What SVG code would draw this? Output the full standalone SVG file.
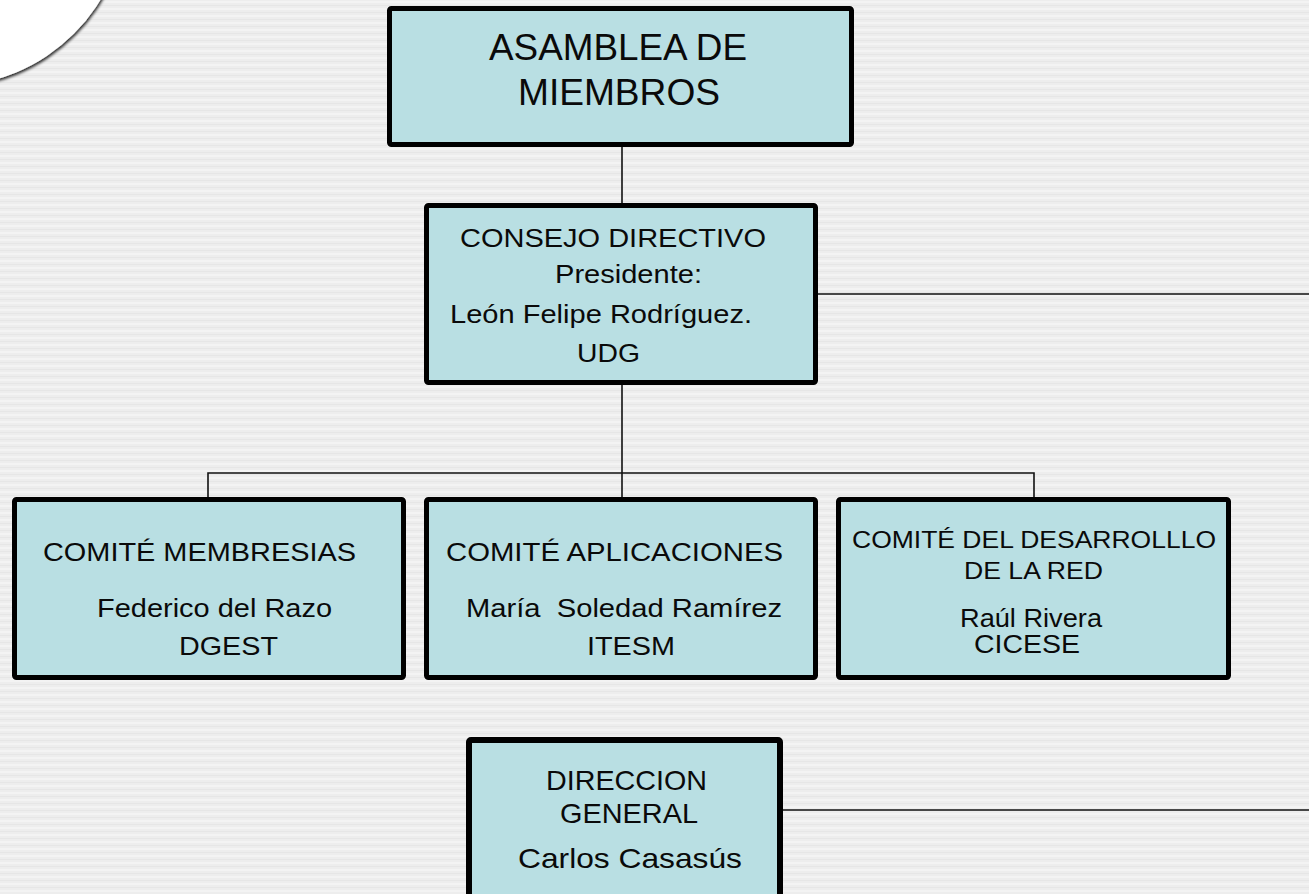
<svg xmlns="http://www.w3.org/2000/svg" width="1309" height="894" viewBox="0 0 1309 894">
<defs>
  <pattern id="stripes" x="0" y="0" width="1309" height="7" patternUnits="userSpaceOnUse">
    <rect width="1309" height="7" fill="#ededed"/>
    <rect y="1" width="1309" height="2" fill="#f3f3f3"/>
    <rect y="5" width="1309" height="1" fill="#e6e6e6"/>
  </pattern>
  <filter id="shadow" x="-20%" y="-20%" width="140%" height="140%">
    <feGaussianBlur in="SourceAlpha" stdDeviation="1.8"/>
    <feOffset dx="1" dy="2" result="b"/>
    <feComponentTransfer><feFuncA type="linear" slope="0.85"/></feComponentTransfer>
    <feMerge><feMergeNode/><feMergeNode in="SourceGraphic"/></feMerge>
  </filter>
  <style>
    .box { fill: #b9dfe3; stroke: #000; stroke-width: 5; }
    .t { font-family: "Liberation Sans", Arial, sans-serif; fill: #0a0a0a; }
    .conn { stroke: #111; stroke-width: 1.6; fill: none; }
  </style>
</defs>
<rect width="1309" height="894" fill="url(#stripes)"/>
<circle cx="-52" cy="-92" r="178" fill="#ffffff" filter="url(#shadow)"/>

<g id="connectors">
  <path class="conn" d="M622 147 V205"/>
  <path class="conn" d="M818 294 H1309"/>
  <path class="conn" d="M622 385 V497"/>
  <path class="conn" d="M208 497 V473 H1034 V497"/>
  <path class="conn" d="M783 810 H1309"/>
</g>

<g id="asamblea">
  <rect class="box" x="389.5" y="8.5" width="462" height="136" rx="2"/>
  <text class="t" font-size="37" x="489" y="60" textLength="258" lengthAdjust="spacingAndGlyphs">ASAMBLEA DE</text>
  <text class="t" font-size="37" x="518" y="105" textLength="202" lengthAdjust="spacingAndGlyphs">MIEMBROS</text>
</g>

<g id="consejo">
  <rect class="box" x="426.5" y="205.5" width="389" height="177" rx="2"/>
  <text class="t" font-size="26" x="460" y="247" textLength="306" lengthAdjust="spacingAndGlyphs">CONSEJO DIRECTIVO</text>
  <text class="t" font-size="26" x="555" y="283" textLength="147" lengthAdjust="spacingAndGlyphs">Presidente:</text>
  <text class="t" font-size="26" x="450" y="323" textLength="302" lengthAdjust="spacingAndGlyphs">León Felipe Rodríguez.</text>
  <text class="t" font-size="26" x="577" y="362" textLength="63" lengthAdjust="spacingAndGlyphs">UDG</text>
</g>

<g id="comite-membresias">
  <rect class="box" x="14.5" y="499.5" width="389" height="178" rx="2"/>
  <text class="t" font-size="26" x="43" y="561" textLength="313" lengthAdjust="spacingAndGlyphs">COMITÉ MEMBRESIAS</text>
  <text class="t" font-size="26" x="97" y="617" textLength="235" lengthAdjust="spacingAndGlyphs">Federico del Razo</text>
  <text class="t" font-size="26" x="179" y="655" textLength="99" lengthAdjust="spacingAndGlyphs">DGEST</text>
</g>

<g id="comite-aplicaciones">
  <rect class="box" x="426.5" y="499.5" width="389" height="178" rx="2"/>
  <text class="t" font-size="26" x="446" y="561" textLength="337" lengthAdjust="spacingAndGlyphs">COMITÉ APLICACIONES</text>
  <text class="t" font-size="26" x="466" y="617" textLength="316" lengthAdjust="spacingAndGlyphs" style="white-space:pre">María  Soledad Ramírez</text>
  <text class="t" font-size="26" x="587" y="655" textLength="88" lengthAdjust="spacingAndGlyphs">ITESM</text>
</g>

<g id="comite-desarrollo">
  <rect class="box" x="838.5" y="499.5" width="390" height="178" rx="2"/>
  <text class="t" font-size="24" x="852" y="548" textLength="364" lengthAdjust="spacingAndGlyphs">COMITÉ DEL DESARROLLLO</text>
  <text class="t" font-size="24" x="964" y="579" textLength="139" lengthAdjust="spacingAndGlyphs">DE LA RED</text>
  <text class="t" font-size="25" x="960" y="627" textLength="142" lengthAdjust="spacingAndGlyphs">Raúl Rivera</text>
  <text class="t" font-size="25" x="974" y="653" textLength="106" lengthAdjust="spacingAndGlyphs">CICESE</text>
</g>

<g id="direccion">
  <rect class="box" x="469" y="740" width="311" height="170" rx="2" style="stroke-width:6"/>
  <text class="t" font-size="28" x="546" y="790" textLength="161" lengthAdjust="spacingAndGlyphs">DIRECCION</text>
  <text class="t" font-size="28" x="560" y="823" textLength="138" lengthAdjust="spacingAndGlyphs">GENERAL</text>
  <text class="t" font-size="28" x="518" y="868" textLength="224" lengthAdjust="spacingAndGlyphs">Carlos Casasús</text>
</g>
</svg>
